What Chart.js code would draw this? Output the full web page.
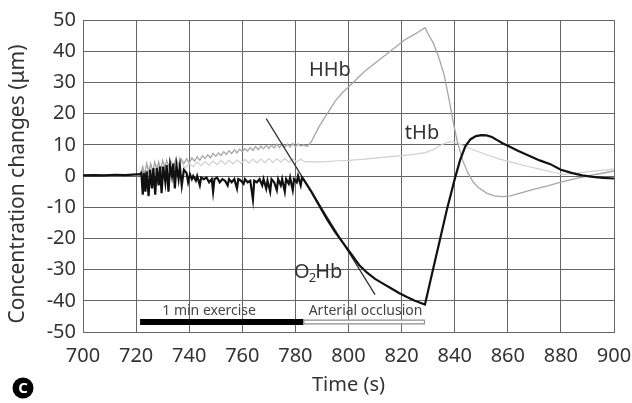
<!DOCTYPE html>
<html>
<head>
<meta charset="utf-8">
<script src="https://cdn.jsdelivr.net/npm/chart.js@4.4.1/dist/chart.umd.min.js"></script>
<style>
body{margin:0;background:#fff;}
#wrap{width:632px;height:403px;}
</style>
</head>
<body>
<div id="wrap"><canvas id="chartNirs" width="632" height="403"></canvas></div>
<script>
// axis ticks
var xTicks = [700, 720, 740, 760, 780, 800, 820, 840, 860, 880, 900];
var yTicks = [-50, -40, -30, -20, -10, 0, 10, 20, 30, 40, 50];

// O2Hb (black trace)
var o2hbTime = [700,704,708,712,716,720,721.5,
  722,722.5,723,723.5,724,724.7,725.3,726,726.5,727.2,
  727.8,728.5,729,729.6,730.2,731,731.5,732.2,732.8,733.5,
  734,734.6,735.2,736,736.5,737.2,738,739,739.6,740.3,
  741,741.5,742.5,743,744,744.5,745.5,746.5,747.5,748.5,
  749,749.5,750.5,751.5,752.5,753.5,754.5,755,756,757,
  758,758.5,759.5,760.5,761,762,763,764,764.5,765.5,
  766.5,767.5,768,769,769.5,770.5,771,772,773,773.5,
  774.5,775,776,776.5,777.5,778,779,779.5,780.5,781,
  782,782.5,
  783,786,789,792,795,798,801,804,807,810,813,816,819,822,825,828.8,
  831,834,837,840,842,844,846,848,850,852,
  854,856,858,860,864,868,872,876,880,884,
  888,892,896,900];
var o2hbValues = [0.2,0.3,0.2,0.4,0.3,0.5,0.6,
  1,-6,1,-5,1.5,-6.5,2,-4,2.5,-6,
  2.5,-3,3,-5.5,3,-2,3.5,-5,3.5,0,
  4,-4,3.5,-1,3,-3,2,1,-2,0.5,
  -1,0,-1.5,0,-3,-0.5,-1,-0.5,-2,-1,
  -5,-1,-0.5,-2,-1,-1.5,-3,-1,-2,-1,
  -4,-1,-1.5,-2.5,-1,-2,-1.5,-7.5,-1.5,-2,
  -1,-3,-1,-4,-1.5,-5,-1,-2,-4.5,-1,
  -3,-1,-5,-1,-2.5,-0.5,-4.5,-1,-2,0,
  -3,-0.5,
  -1,-5,-9.5,-14,-18,-21.5,-25,-28.5,-31,-33,-34.5,-36,-37.5,-38.8,-40,-41.2,
  -33,-22,-11,-1,5,9.5,11.8,12.8,13.1,13,
  12.5,11.5,10.5,9.7,8,6.5,5,3.8,2,1,
  0.2,-0.3,-0.6,-0.8];

// HHb (grey trace)
var hhbTime = [700,705,710,715,721.5,
  722.5,723.2,724,724.8,725.5,726.3,727,727.8,728.5,729.3,
  730,730.8,731.5,732.3,733,734,735,736,737,738,
  739,740,741,742,743,744,745,746,747,748,
  749,750,751,752,753,754,755,756,757,758,
  759,760,761,762,763,764,765,766,767,768,
  769,770,771,772,773,774,775,776,777,778,
  779,780,781,782,783,
  784.5,786,789,792,795,798,800,803,806,809,812,815,818,821,824,826,828.8,
  830,832,834,836,838,839.5,841,843,845,847,849,852,855,858,861,865,870,875,880,885,890,895,900];
var hhbValues = [0.2,0.2,0.3,0.2,0.5,
  3,0.5,4,1,4,1.5,4.5,2,4.5,2,
  5,2.5,5,3,5,3,5.5,3.5,5.5,4,
  5.5,4.2,5.8,4.8,6.2,5,6.5,5.6,6.8,5.8,
  7.2,6.3,7.4,6.6,7.8,6.9,8.1,7.2,8.4,7.4,
  8.6,7.8,8.8,8,9.1,8.2,9.4,8.4,9.6,8.7,
  9.8,8.8,9.9,9,10.2,9.1,10.3,9.2,10.2,9.3,
  10.4,9.4,10.3,9.6,10,
  9.5,11,16,20,24,27,28.5,31,33.5,35.5,37.5,39.5,41.5,43.5,45,46,47.5,
  45.5,42.5,38,32.5,24,17,11,5,1,-2,-3.8,-5.5,-6.4,-6.6,-6.4,-5.4,-4.2,-3.2,-2,-0.9,0,0.8,1.6];

// tHb (light grey trace)
var thbTime = [700,710,721.5,
  722.5,723.5,725,726.5,728,729.5,731,732.5,734,735.5,737,738.5,
  740,741.5,743,744.5,746,747.5,749,750.5,752,753.5,755,756.5,
  758,759.5,761,762.5,764,765.5,767,768.5,770,771.5,773,774.5,
  776,777.5,779,780.5,782,783.5,
  786,790,795,800,805,810,815,820,825,829,
  832,835,838,840,843,847,852,857,862,867,872,877,881,885,890,895,900];
var thbValues = [0.3,0.3,0.5,
  2,0.5,3,1,3.5,1.5,4,2,4,2,4.5,2.5,
  4,3,4.5,3.3,4.6,3.5,4.8,3.6,5,3.8,5,3.9,
  5.2,4,5.3,4.1,5.4,4.2,5.4,4.3,5.6,4.3,5.5,4.4,
  5.6,4.4,5.5,4.5,5.4,4.6,
  4.5,4.5,4.8,5,5.3,5.7,6.1,6.5,7,7.5,
  8.5,10,11,10.8,9.8,8.4,6.8,5.4,4.3,3.2,2.2,1.2,0.5,0.8,1.3,1.8,2.2];

// tangent to the O2Hb decline
var tangentTime = [769, 810];
var tangentValues = [18.4, -38];

// protocol periods
var exerciseTime = [721.5, 783];
var occlusionTime = [783, 828.8];

var barLevel = -46.8;

function pts(t, v) {
  return t.map(function (x, i) { return { x: x, y: v[i] }; });
}
function flat(t, y) {
  return t.map(function (x) { return { x: x, y: y }; });
}

var labelsPlugin = {
  id: 'nirsLabels',
  afterDatasetsDraw: function (chart) {
    var c = chart.ctx, xs = chart.scales.x, ys = chart.scales.y;
    c.save();
    c.fillStyle = '#333';
    c.textBaseline = 'middle';
    c.font = '20px "Noto Sans"';
    c.textAlign = 'center';
    c.fillText('HHb', xs.getPixelForValue(793), ys.getPixelForValue(33.8));
    c.fillText('tHb', xs.getPixelForValue(827.7), ys.getPixelForValue(13.8));
    // O2Hb with subscript
    c.textAlign = 'left';
    var ox = xs.getPixelForValue(779.5), oy = ys.getPixelForValue(-30.9);
    c.fillText('O', ox, oy);
    var w = c.measureText('O').width;
    c.font = '13px "Noto Sans"';
    c.fillText('2', ox + w - 1, oy + 6);
    var w2 = c.measureText('2').width;
    c.font = '20px "Noto Sans"';
    c.fillText('Hb', ox + w + w2 - 2, oy);
    // protocol labels
    c.font = '14px "Noto Sans"';
    c.fillStyle = '#444';
    c.textAlign = 'center';
    c.fillText('1 min exercise', xs.getPixelForValue(747.5), ys.getPixelForValue(-43.2));
    c.textAlign = 'left';
    c.fillText('Arterial occlusion', xs.getPixelForValue(785), ys.getPixelForValue(-43.2));
    // y axis title (sits a bit below the plot centre in the figure)
    c.save();
    c.translate(18, 184);
    c.rotate(-Math.PI / 2);
    c.fillStyle = '#333';
    c.font = '21px "Noto Sans"';
    c.textAlign = 'center';
    c.fillText('Concentration changes (\u03bcm)', 0, 0);
    c.restore();
    // panel letter
    c.fillStyle = '#000';
    c.beginPath();
    c.arc(23, 388, 10.5, 0, Math.PI * 2);
    c.fill();
    c.fillStyle = '#fff';
    c.font = 'bold 15px "Noto Sans"';
    c.textAlign = 'center';
    c.fillText('C', 23, 388.5);
    c.restore();
  }
};

var ctx = document.getElementById('chartNirs').getContext('2d');
var chartNirs = new Chart(ctx, {
  type: 'line',
  data: {
    datasets: [
      { label: 'tHb', data: pts(thbTime, thbValues), borderColor: '#d0d0d0', borderWidth: 1.2, order: 6 },
      { label: 'HHb', data: pts(hhbTime, hhbValues), borderColor: '#a6a6a6', borderWidth: 1.3, order: 5 },
      { label: 'tangent', data: pts(tangentTime, tangentValues), borderColor: '#333', borderWidth: 1.3, order: 4 },
      { label: 'O2Hb', data: pts(o2hbTime, o2hbValues), borderColor: '#111', borderWidth: 2.2, order: 3 },
      { label: 'exercise', data: flat(exerciseTime, barLevel), borderColor: '#000', borderWidth: 6, borderCapStyle: 'butt', order: 2 },
      { label: 'occlusion', data: flat(occlusionTime, barLevel), borderColor: '#8c8c8c', borderWidth: 5, borderCapStyle: 'butt', order: 1 },
      { label: 'occlusionFill', data: flat([occlusionTime[0] + 0.4, occlusionTime[1] - 0.4], barLevel), borderColor: '#fff', borderWidth: 2.5, borderCapStyle: 'butt', order: 0 }
    ]
  },
  options: {
    responsive: false,
    animation: false,
    parsing: false,
    elements: { point: { radius: 0 }, line: { tension: 0, fill: false } },
    layout: { padding: { left: 0, right: 18, top: 20, bottom: 0 } },
    plugins: { legend: { display: false }, tooltip: { enabled: false } },
    scales: {
      x: {
        type: 'linear',
        min: 700, max: 900,
        afterBuildTicks: function (s) { s.ticks = xTicks.map(function (v) { return { value: v }; }); },
        afterFit: function (s) { s.height = 71; s.paddingLeft = 0; s.paddingRight = 0; },
        grid: { color: '#666', lineWidth: 1, drawTicks: false },
        border: { color: '#666' },
        ticks: { color: '#333', font: { size: 20, family: '"Noto Sans"' }, padding: 12, maxRotation: 0, autoSkip: false },
        title: { display: true, text: 'Time (s)', color: '#333', font: { size: 20, family: '"Noto Sans"' }, padding: { top: 0, bottom: 6 } }
      },
      y: {
        min: -50, max: 50,
        afterBuildTicks: function (s) { s.ticks = yTicks.map(function (v) { return { value: v }; }); },
        afterFit: function (s) { s.width = 83; s.paddingTop = 0; s.paddingBottom = 0; },
        grid: { color: '#666', lineWidth: 1, drawTicks: false },
        border: { color: '#666' },
        ticks: { color: '#333', font: { size: 20, family: '"Noto Sans"' }, padding: 7, autoSkip: false }
      }
    }
  },
  plugins: [labelsPlugin]
});
</script>
</body>
</html>
